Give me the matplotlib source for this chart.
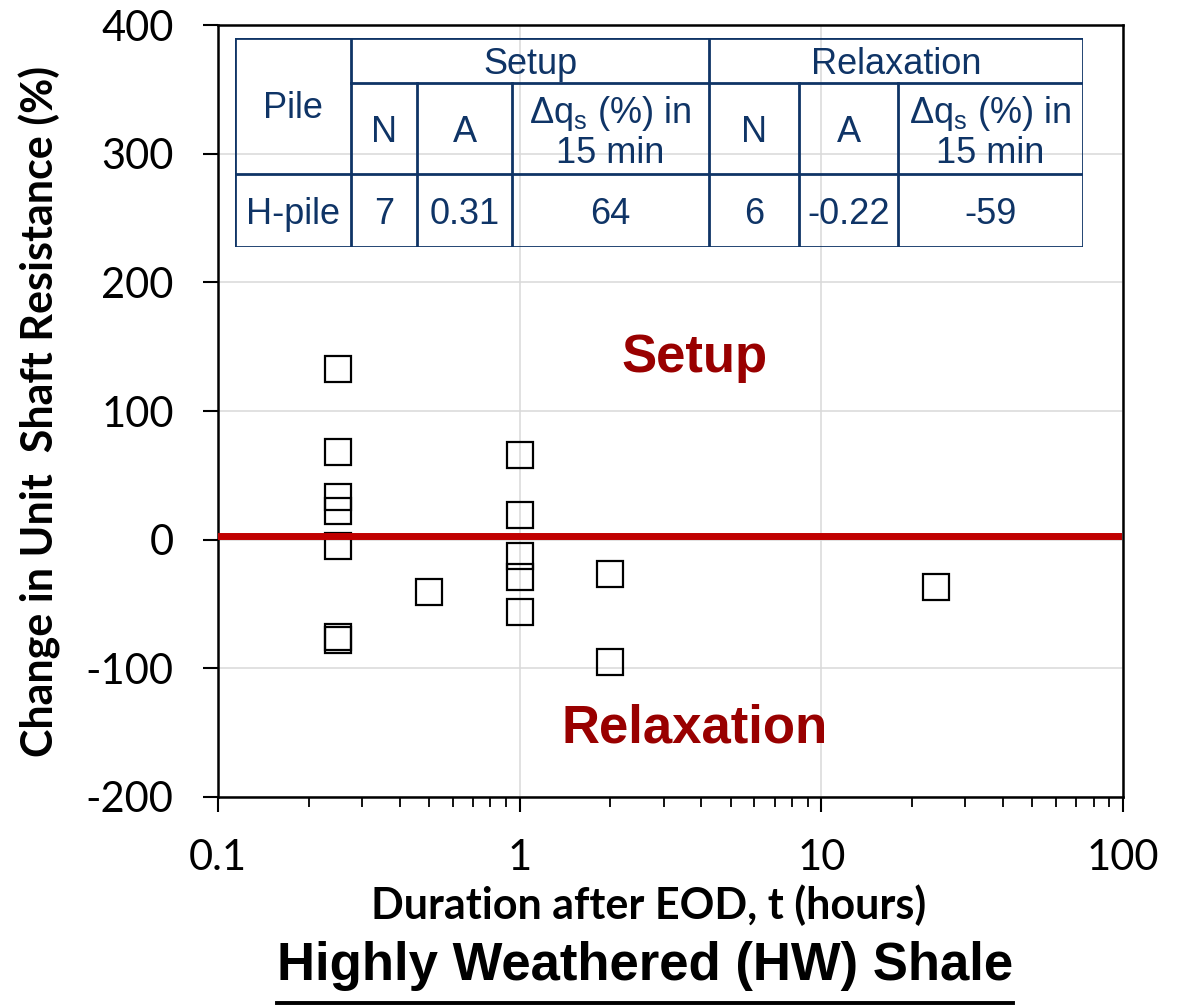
import matplotlib
matplotlib.use("Agg")
import matplotlib.pyplot as plt
from matplotlib.ticker import NullFormatter, LogLocator
from matplotlib.lines import Line2D

# Fonts: Arial-like for table/notes, Calibri-like for axes
plt.rcParams['font.family'] = ['Liberation Sans', 'DejaVu Sans']
plt.rcParams['mathtext.fontset'] = 'custom'
plt.rcParams['mathtext.rm'] = 'Liberation Sans'
plt.rcParams['mathtext.default'] = 'regular'
plt.rcParams['axes.unicode_minus'] = False
axis_font = ['Lato', 'DejaVu Sans']

# Data
t_hours = [0.25, 0.25, 0.25, 0.25, 0.25, 0.25, 0.25,
           0.5,
           1, 1, 1, 1, 1,
           2, 2,
           24]
dq_pct = [133, 68, 33, 22, -5, -76, -78,
          -41,
          66, 19, -13, -29, -56,
          -27, -95,
          -37]
boundary_pct = 3

x_ticks = [0.1, 1, 10, 100]
x_tick_labels = ['0.1', '1', '10', '100']
y_ticks = [-200, -100, 0, 100, 200, 300, 400]

# Summary table
table_header_top = ['Pile', 'Setup', 'Relaxation']
table_header_sub = ['N', 'A', 'Δq$_{s}$ (%) in\n15 min', 'N', 'A', 'Δq$_{s}$ (%) in\n15 min']
table_row = ['H-pile', '7', '0.31', '64', '6', '-0.22', '-59']

navy = '#0F3466'
red_line = '#C00000'
red_text = '#990000'

W, H = 1183, 1007
fig = plt.figure(figsize=(W / 100, H / 100), dpi=100)
ax = fig.add_axes([218 / W, 1 - 797 / H, 905 / W, 772 / H])

ax.set_xscale('log')
ax.set_xlim(0.1, 100)
ax.set_ylim(-200, 400)

ax.grid(True, which='major', color='#D9D9D9', linewidth=1.1, zorder=0)
ax.set_axisbelow(True)

ax.plot(t_hours, dq_pct, 's', mfc='none', mec='black', ms=19, mew=1.6, zorder=3)
ax.axhline(boundary_pct, xmax=0.995, color=red_line, lw=5, zorder=4)

ax.set_xticks(x_ticks)
ax.set_xticklabels(x_tick_labels)
ax.xaxis.set_minor_locator(LogLocator(base=10, subs=range(2, 10)))
ax.xaxis.set_minor_formatter(NullFormatter())
ax.set_yticks(y_ticks)

ax.tick_params(axis='both', which='major', direction='out', length=11, width=1.5,
               labelsize=30, colors='black')
ax.tick_params(axis='x', which='major', pad=19)
ax.tick_params(axis='y', which='major', pad=21)
ax.tick_params(axis='x', which='minor', direction='out', length=7, width=1.3)
for lbl in ax.get_xticklabels() + ax.get_yticklabels():
    lbl.set_family(axis_font)

for sp in ax.spines.values():
    sp.set_linewidth(1.8)

ax.set_xlabel('Duration after EOD, t (hours)', family=axis_font, fontsize=31, fontweight='bold')
ax.xaxis.set_label_coords(0.476, -0.140)
ax.xaxis.label.set_va('center')
ax.set_ylabel('Change in Unit  Shaft Resistance (%)', family=axis_font, fontsize=31, fontweight='bold')
ax.yaxis.set_label_coords(-0.197, 0.5)
ax.yaxis.label.set_va('center')

ax.text(0.527, 0.5505, 'Setup', transform=ax.transAxes, ha='center', va='baseline',
        fontsize=38, fontweight='bold', color=red_text)
ax.text(0.527, 0.070, 'Relaxation', transform=ax.transAxes, ha='center', va='baseline',
        fontsize=38, fontweight='bold', color=red_text)

# Table drawn in its own pixel-based axes
tx0, tx1, ty0, ty1 = 235, 1083, 38, 247
tab = fig.add_axes([tx0 / W, 1 - ty1 / H, (tx1 - tx0) / W, (ty1 - ty0) / H])
tab.set_xlim(tx0, tx1)
tab.set_ylim(ty1, ty0)
tab.axis('off')
tab.patch.set_alpha(0)

cols = [235, 351, 417, 512, 709, 799, 898, 1083]
rows = [38, 83, 174, 247]
lw_tab = 2.0
for y in [rows[0], rows[2], rows[3]]:
    tab.plot([cols[0], cols[-1]], [y, y], color=navy, lw=lw_tab, solid_capstyle='projecting')
tab.plot([cols[1], cols[-1]], [rows[1], rows[1]], color=navy, lw=lw_tab)
for i, x in enumerate(cols):
    if i in (0, 1, 4, 7):
        tab.plot([x, x], [rows[0], rows[3]], color=navy, lw=lw_tab, solid_capstyle='projecting')
    else:
        tab.plot([x, x], [rows[1], rows[3]], color=navy, lw=lw_tab)

tkw = dict(ha='center', va='center', color=navy, fontsize=26)
tab.text((cols[0] + cols[1]) / 2, (rows[0] + rows[2]) / 2 + 3, table_header_top[0], **tkw)
tab.text((cols[1] + cols[4]) / 2, (rows[0] + rows[1]) / 2 + 4, table_header_top[1], **tkw)
tab.text((cols[4] + cols[7]) / 2, (rows[0] + rows[1]) / 2 + 4, table_header_top[2], **tkw)
for j, s in enumerate(table_header_sub):
    tab.text((cols[j + 1] + cols[j + 2]) / 2, (rows[1] + rows[2]) / 2 + 4, s,
             linespacing=1.1, **tkw)
for j, s in enumerate(table_row):
    tab.text((cols[j] + cols[j + 1]) / 2, (rows[2] + rows[3]) / 2 + 4, s, **tkw)

# Underlined title below the chart
title = fig.text(645 / W, 1 - 980 / H, 'Highly Weathered (HW) Shale', ha='center',
                 va='baseline', fontsize=38, fontweight='bold')
fig.canvas.draw()
bb = title.get_window_extent()
uy = (H - 1003) / H
fig.add_artist(Line2D([bb.x0 / W, bb.x1 / W], [uy, uy], color='black', lw=2.8,
                      transform=fig.transFigure))

fig.savefig('out.png', dpi=100)
